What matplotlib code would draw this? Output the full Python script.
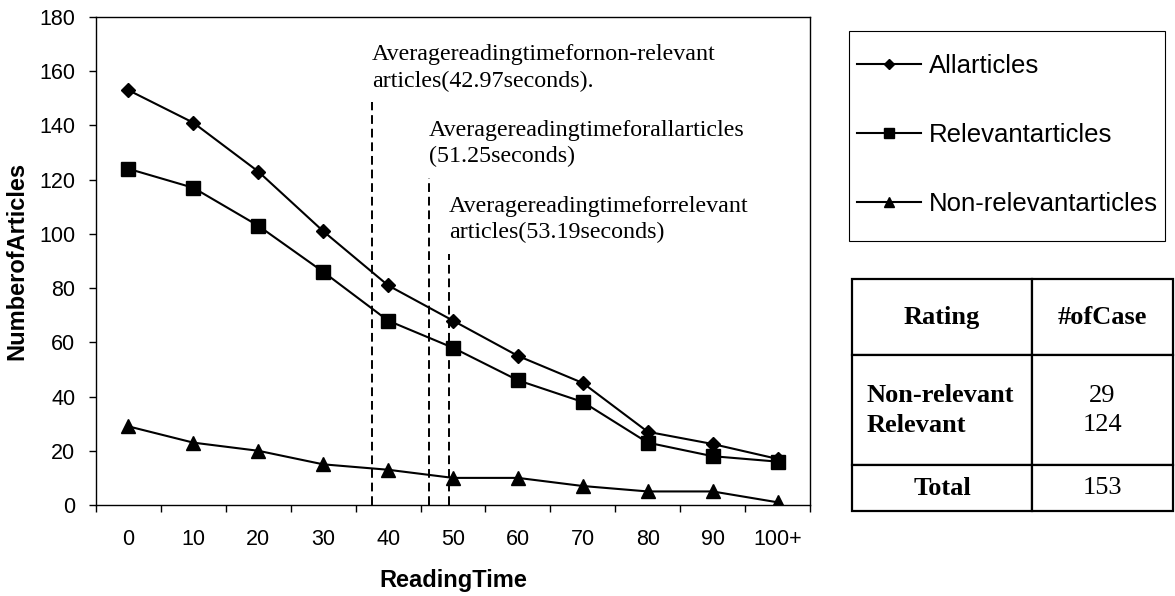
import matplotlib
matplotlib.use("Agg")
import matplotlib.pyplot as plt
from matplotlib.patches import Rectangle

plt.rcParams['font.family'] = 'Liberation Sans'

# reading time bins
categories = ["0", "10", "20", "30", "40", "50", "60", "70", "80", "90", "100+"]

# number of articles per bin
all_articles = [153, 141, 123, 101, 81, 68, 55, 45, 27, 22.5, 17]
relevant = [124, 117, 103, 86, 68, 58, 46, 38, 23, 18, 16]
non_relevant = [29, 23, 20, 15, 13, 10, 10, 7, 5, 5, 1]

# average reading time markers (position on the category axis, top of the dashed line)
avg_labels = ["Averagereadingtimefornon-relevant\narticles(42.97seconds).",
              "Averagereadingtimeforallarticles\n(51.25seconds)",
              "Averagereadingtimeforrelevant\narticles(53.19seconds)"]
avg_pos = [3.75, 4.63, 4.94]
avg_top = [148.5, 120.5, 92.5]

# summary table
table_header = ["Rating", "#ofCase"]
table_rows = [["Non-relevant\nRelevant", "29\n124"],
              ["Total", "153"]]

W, H = 1175, 596
fig = plt.figure(figsize=(W / 100, H / 100), dpi=100)
ax = fig.add_axes([96 / W, (H - 505) / H, (810 - 96) / W, (505 - 17) / H])

x = list(range(len(categories)))
ax.plot(x, all_articles, color='black', lw=1.5, marker='D', ms=6.8, label='Allarticles')
ax.plot(x, relevant, color='black', lw=1.5, marker='s', ms=9.5, label='Relevantarticles')
ax.plot(x, non_relevant, color='black', lw=1.5, marker='^', ms=10.5, label='Non-relevantarticles')

ax.vlines(avg_pos, 0, avg_top, colors='black', lw=1.4, linestyles=(0, (4.5, 2.5)))
for xp, yt, txt in zip(avg_pos, avg_top, avg_labels):
    ax.text(xp, yt + 4.0, txt, ha='left', va='bottom', fontsize=17.3,
            family='Liberation Serif', linespacing=1.35)

ax.set_xlim(-0.5, len(categories) - 0.5)
ax.set_ylim(0, 180)
ax.set_yticks(range(0, 181, 20))
ax.set_xticks([i - 0.5 for i in range(len(categories) + 1)])
ax.set_xticklabels([])
ax.set_xticks(x, minor=True)
ax.set_xticklabels(categories, minor=True)
ax.tick_params(axis='x', which='major', direction='out', length=5, width=1)
ax.tick_params(axis='x', which='minor', length=0, pad=17, labelsize=15.5)
ax.tick_params(axis='y', direction='out', length=5, width=1, pad=10, labelsize=15.5)
for s in ax.spines.values():
    s.set_linewidth(1.0)

ax.set_xlabel('ReadingTime', fontsize=17, fontweight='bold', labelpad=14)
ax.set_ylabel('NumberofArticles', fontsize=17, fontweight='bold', labelpad=8)

# legend box
fig.patches.append(Rectangle((849 / W, (H - 241) / H), 316 / W, 210 / H,
                             transform=fig.transFigure, fill=False,
                             edgecolor='black', lw=0.8))
handles, labels = ax.get_legend_handles_labels()
fig.legend(handles, labels, loc='center', bbox_to_anchor=(1007 / W, (H - 135) / H),
           frameon=False, fontsize=18.5, handlelength=2.5, handletextpad=0.3,
           labelspacing=1.75, markerscale=0.7)

# summary table
ax_t = fig.add_axes([852 / W, (H - 511) / H, (1173 - 852) / W, (511 - 279) / H])
ax_t.axis('off')
tbl = ax_t.table(cellText=[table_header] + table_rows, colWidths=[180, 141],
                 cellLoc='center', bbox=[0, 0, 1, 1])
tbl.auto_set_font_size(False)
row_h = [75, 108, 45]
for (r, c), cell in tbl.get_celld().items():
    cell.set_height(row_h[r])
    cell.set_linewidth(1.6)
    t = cell.get_text()
    t.set_fontsize(19)
    t.set_family('Liberation Serif')
    t.set_linespacing(1.4)
    if r == 0 or c == 0:
        t.set_fontweight('bold')
    if r == 1 and c == 0:
        cell.PAD = 0.08
        t.set_horizontalalignment('left')
        cell._loc = 'left'

fig.savefig('out.png', dpi=100)
